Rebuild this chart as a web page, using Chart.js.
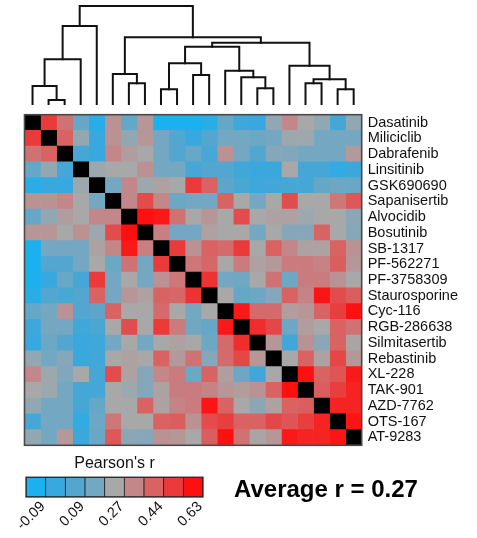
<!DOCTYPE html>
<html>
<head>
<meta charset="utf-8">
<script src="https://cdn.jsdelivr.net/npm/chart.js@4.4.1/dist/chart.umd.min.js"></script>
<style>
  html, body { margin: 0; padding: 0; background: #fff; width: 477px; height: 538px; overflow: hidden; }
  .box { position: absolute; }
  #avg { position: absolute; left: 234px; top: 475px; font: bold 24px "Liberation Sans", Arial, sans-serif; color: #000; white-space: nowrap; }
</style>
</head>
<body>
<div class="box" style="left:0;top:0;"><canvas id="dendro" width="477" height="106"></canvas></div>
<div class="box" style="left:0;top:100px;"><canvas id="heat" width="477" height="360"></canvas></div>
<div class="box" style="left:0;top:452px;"><canvas id="scale" width="240" height="86"></canvas></div>
<div id="avg">Average r = 0.27</div>
<script>
// Compounds in clustered order (rows top to bottom, columns left to right)
const drugs = ['Dasatinib', 'Miliciclib', 'Dabrafenib', 'Linsitinib', 'GSK690690', 'Sapanisertib',
  'Alvocidib', 'Bosutinib', 'SB-1317', 'PF-562271', 'PF-3758309', 'Staurosporine', 'Cyc-116',
  'RGB-286638', 'Silmitasertib', 'Rebastinib', 'XL-228', 'TAK-901', 'AZD-7762', 'OTS-167', 'AT-9283'];

// Pearson's r, upper triangle: each row lists the columns to the right of the diagonal
const rDasatinib     = [0.54, 0.41, 0.14, -0.05, 0.33, 0.14, 0.32, -0.09, -0.09, -0.09, -0.05, 0.14, 0.02, 0.00, 0.23, 0.36, 0.27, 0.23, 0.05, 0.23];
const rMiliciclib    = [0.45, 0.23, 0.00, 0.33, 0.23, 0.32, 0.18, 0.09, 0.00, 0.09, 0.18, 0.18, 0.16, 0.18, 0.25, 0.25, 0.18, 0.18, 0.18];
const rDabrafenib    = [0.05, 0.00, 0.36, 0.30, 0.27, 0.18, 0.09, 0.15, 0.06, 0.33, 0.18, 0.09, 0.21, 0.20, 0.18, 0.18, 0.18, 0.31];
const rLinsitinib    = [0.25, 0.27, 0.27, 0.33, 0.18, 0.18, 0.05, 0.09, 0.09, 0.03, 0.00, 0.01, 0.27, 0.05, 0.05, -0.02, 0.01];
const rGSK690690     = [0.18, 0.36, 0.25, 0.29, 0.27, 0.54, 0.45, 0.12, 0.06, 0.02, 0.03, 0.05, 0.05, 0.14, 0.16, 0.15];
const rSapanisertib  = [0.36, 0.50, 0.36, 0.16, 0.18, 0.18, 0.45, 0.27, 0.18, 0.27, 0.50, 0.27, 0.27, 0.40, 0.47];
const rAlvocidib     = [0.63, 0.61, 0.41, 0.27, 0.32, 0.27, 0.50, 0.27, 0.29, 0.29, 0.25, 0.27, 0.27, 0.22];
const rBosutinib     = [0.38, 0.18, 0.18, 0.29, 0.27, 0.27, 0.18, 0.27, 0.21, 0.21, 0.45, 0.27, 0.21];
const rSB1317        = [0.54, 0.33, 0.45, 0.43, 0.54, 0.27, 0.45, 0.36, 0.29, 0.29, 0.45, 0.33];
const rPF562271      = [0.40, 0.44, 0.27, 0.39, 0.29, 0.31, 0.39, 0.39, 0.37, 0.46, 0.32];
const rPF3758309     = [0.56, 0.18, 0.17, 0.27, 0.41, 0.16, 0.39, 0.39, 0.33, 0.27];
const rStaurosporine = [0.27, 0.14, 0.16, 0.21, 0.45, 0.37, 0.62, 0.50, 0.46];
const rCyc116        = [0.61, 0.43, 0.43, 0.30, 0.32, 0.45, 0.53, 0.63];
const rRGB286638     = [0.57, 0.51, 0.16, 0.30, 0.27, 0.45, 0.41];
const rSilmitasertib = [0.32, 0.03, 0.33, 0.22, 0.45, 0.28];
const rRebastinib    = [0.27, 0.45, 0.29, 0.51, 0.32];
const rXL228         = [0.63, 0.45, 0.48, 0.61];
const rTAK901        = [0.46, 0.53, 0.59];
const rAZD7762       = [0.59, 0.59];
const rOTS167        = [0.62];
const corrRows = [rDasatinib, rMiliciclib, rDabrafenib, rLinsitinib, rGSK690690, rSapanisertib,
  rAlvocidib, rBosutinib, rSB1317, rPF562271, rPF3758309, rStaurosporine, rCyc116, rRGB286638,
  rSilmitasertib, rRebastinib, rXL228, rTAK901, rAZD7762, rOTS167, []];

// Hierarchical clustering of the columns: merge k joins two nodes into node 21 + k
const mergeLeft   = [1, 0, 22, 23, 6, 5, 8, 10, 27, 14, 13, 12, 29, 17, 19, 34, 16, 33, 26, 24];
const mergeRight  = [2, 21, 3, 4, 7, 25, 9, 11, 28, 15, 30, 31, 32, 18, 20, 35, 36, 37, 38, 39];
const mergeHeight = [0.04, 0.18, 0.447, 0.78, 0.207, 0.30, 0.147, 0.29, 0.407, 0.157, 0.267, 0.333,
  0.573, 0.207, 0.147, 0.247, 0.383, 0.613, 0.667, 0.98];

// Colour key
const keyValues = [-0.09, 0.00, 0.09, 0.18, 0.27, 0.36, 0.45, 0.54, 0.63];
const keyLabels = ['-0.09', '', '0.09', '', '0.27', '', '0.44', '', '0.63'];
const average = 0.27;

const palette = ['#1bb1ef', '#38a8de', '#52a6cf', '#74a7c1', '#a8a8a8', '#c3878a', '#d96262', '#ea3a3a', '#ff1010'];
const FONT = '"Liberation Sans", Arial, Helvetica, sans-serif';
Chart.defaults.font.family = FONT;

function hexToRgb(h) { const n = parseInt(h.slice(1), 16); return [(n >> 16) & 255, (n >> 8) & 255, n & 255]; }
const paletteRgb = palette.map(hexToRgb);
function colorFor(r) {
  let t = (r - keyValues[0]) / (keyValues[1] - keyValues[0]);
  t = Math.max(0, Math.min(palette.length - 1, t));
  const i = Math.min(palette.length - 2, Math.floor(t));
  const f = t - i;
  const a = paletteRgb[i], b = paletteRgb[i + 1];
  const c = a.map((v, k) => Math.round(v + (b[k] - v) * f));
  return `rgb(${c[0]},${c[1]},${c[2]})`;
}
function corr(i, j) {
  if (i === j) return null;
  const a = Math.min(i, j), b = Math.max(i, j);
  return corrRows[a][b - a - 1];
}

const n = drugs.length;
const chartArea = { left: 24.5, right: 361.7 };

// ---- Dendrogram ----
const nodeX = drugs.map((_, i) => i);
const nodeH = drugs.map(() => 0);
const linkSets = mergeLeft.map((l, k) => {
  const r = mergeRight[k], h = mergeHeight[k];
  nodeX.push((nodeX[l] + nodeX[r]) / 2);
  nodeH.push(h);
  return {
    data: [{ x: nodeX[l], y: nodeH[l] }, { x: nodeX[l], y: h }, { x: nodeX[r], y: h }, { x: nodeX[r], y: nodeH[r] }],
    showLine: true, borderColor: '#111', borderWidth: 2, pointRadius: 0, fill: false,
    tension: 0, clip: false, borderJoinStyle: 'miter', borderCapStyle: 'square'
  };
});
new Chart(document.getElementById('dendro'), {
  type: 'scatter',
  data: { datasets: linkSets },
  options: {
    responsive: false, animation: false,
    layout: { padding: { left: chartArea.left, right: 477 - chartArea.right, top: 4, bottom: 2 } },
    scales: {
      x: { type: 'linear', min: -0.5, max: n - 0.5, display: false },
      y: { min: 0, max: 1, display: false }
    },
    plugins: { legend: { display: false }, tooltip: { enabled: false } }
  }
});

// ---- Heatmap: one stacked segment per column ----
const cellSets = drugs.map((_, j) => ({
  label: drugs[j],
  data: drugs.map(() => 1),
  backgroundColor: drugs.map((_, i) => i === j ? '#000000' : colorFor(corr(i, j))),
  borderWidth: 0,
  barPercentage: 1,
  categoryPercentage: 1
}));
const frame = {
  id: 'frame',
  afterDatasetsDraw(chart, args, opts) {
    const { ctx, chartArea: a } = chart;
    ctx.save();
    ctx.strokeStyle = opts.color;
    ctx.lineWidth = opts.width;
    ctx.strokeRect(a.left, a.top, a.right - a.left, a.bottom - a.top);
    ctx.restore();
  }
};
new Chart(document.getElementById('heat'), {
  type: 'bar',
  data: { labels: drugs, datasets: cellSets },
  plugins: [frame],
  options: {
    indexAxis: 'y',
    responsive: false, animation: false,
    layout: { padding: { left: chartArea.left, right: 0, top: 5, bottom: 10 } },
    scales: {
      x: { stacked: true, min: 0, max: n, display: false },
      y: {
        stacked: true, position: 'right',
        grid: { display: false, drawTicks: false },
        border: { display: false },
        ticks: { autoSkip: false, color: '#111', font: { size: 14.5 }, padding: 6 },
        afterFit(s) { s.width = 477 - chartArea.right; }
      }
    },
    plugins: { legend: { display: false }, tooltip: { enabled: false }, frame: { color: '#4a4a4a', width: 1.6 } }
  }
});

// ---- Colour key ----
new Chart(document.getElementById('scale'), {
  type: 'bar',
  data: {
    labels: keyLabels,
    datasets: [{
      data: keyValues.map(() => 1),
      backgroundColor: keyValues.map(colorFor),
      borderColor: '#222', borderWidth: 0.8, borderSkipped: false,
      barPercentage: 1, categoryPercentage: 1
    }]
  },
  plugins: [frame],
  options: {
    responsive: false, animation: false,
    layout: { padding: { left: 26, right: 37, top: 1, bottom: 0 } },
    scales: {
      x: {
        grid: { display: false, drawTicks: false },
        border: { display: false },
        ticks: { autoSkip: false, minRotation: 45, maxRotation: 45, color: '#111', font: { size: 14.5 }, padding: 1, labelOffset: 7 },
        afterFit(s) { s.height = 41; }
      },
      y: { min: 0, max: 1, display: false }
    },
    plugins: {
      legend: { display: false }, tooltip: { enabled: false },
      title: { display: true, text: "Pearson's r", color: '#111', font: { size: 16, weight: 'normal' }, padding: { top: 1, bottom: 4 } },
      frame: { color: '#222', width: 1.2 }
    }
  }
});
document.getElementById('avg').textContent = 'Average r = ' + average.toFixed(2);
</script>
</body>
</html>
